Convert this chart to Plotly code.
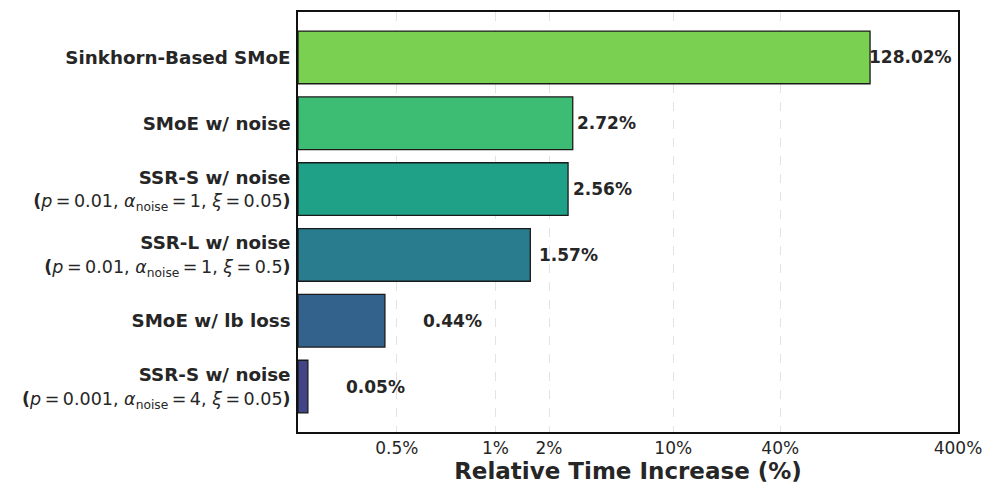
import numpy as np
import plotly.graph_objects as go

# ---- data (top to bottom) ----
method_names = [
    "Sinkhorn-Based SMoE",
    "SMoE w/ noise",
    "SSR-S w/ noise",
    "SSR-L w/ noise",
    "SMoE w/ lb loss",
    "SSR-S w/ noise",
]
method_params = [
    None,
    None,
    "<i>p</i>\u2009=\u20090.01, <i>α</i><sub>noise</sub>\u2009=\u20091, <i>ξ</i>\u2009=\u20090.05",
    "<i>p</i>\u2009=\u20090.01, <i>α</i><sub>noise</sub>\u2009=\u20091, <i>ξ</i>\u2009=\u20090.5",
    None,
    "<i>p</i>\u2009=\u20090.001, <i>α</i><sub>noise</sub>\u2009=\u20094, <i>ξ</i>\u2009=\u20090.05",
]
increase_pct = [128.02, 2.72, 2.56, 1.57, 0.44, 0.05]
bar_colors = ["#7ad151", "#3dbc74", "#1fa187", "#287c8e", "#33638d", "#414487"]
tick_values = [0.5, 1, 2, 10, 40, 400]
tick_labels = ["0.5%", "1%", "2%", "10%", "40%", "400%"]
label_offset = 0.2


# symmetric-log scale (linthresh=1, linscale=1, base 10), as in the original axis
def symlog(v, linthresh=1.0, linscale=1.0, base=10.0):
    v = np.asarray(v, dtype=float)
    adj = linscale / (1.0 - base ** -1)
    a = np.abs(v)
    out = np.where(
        a <= linthresh,
        v * adj,
        np.sign(v) * linthresh * (adj + np.log(np.maximum(a, 1e-12) / linthresh) / np.log(base)),
    )
    return out


def make_label(name, params):
    s = f"<b>{name}</b>"
    if params:
        s += f"<br><span style='font-size:17.5px'><b>(</b>{params}<b>)</b></span>"
    return s


methods = [make_label(n, p) for n, p in zip(method_names, method_params)]
ypos = list(range(len(methods)))
xs = symlog(increase_pct)

fig = go.Figure()
fig.add_trace(go.Bar(
    x=xs, y=ypos, orientation="h", width=0.8,
    marker=dict(color=bar_colors, line=dict(color="#1a1a1a", width=1.3)),
    hoverinfo="skip",
))

for i, v in enumerate(increase_pct):
    fig.add_annotation(
        x=float(symlog(v + label_offset)), y=i, xref="x", yref="y",
        text=f"<b>{v:.2f}%</b>", showarrow=False, xanchor="left", yanchor="middle",
        xshift=-2, borderpad=0,
        font=dict(family="DejaVu Sans", size=17, color="#262626"),
    )

# the page body adds an 8px offset; the figure is sized so the plot box lands where the reference has it
fig.update_layout(
    width=989, height=490,
    margin=dict(l=290, r=39, t=4, b=66),
    plot_bgcolor="white", paper_bgcolor="white",
    showlegend=False,
    font=dict(family="DejaVu Sans", color="#262626"),
    bargap=0.2,
)
fig.update_xaxes(
    range=[0, float(symlog(400))], automargin=False,
    tickmode="array", tickvals=[float(t) for t in symlog(tick_values)], ticktext=tick_labels,
    tickfont=dict(family="DejaVu Sans", size=17, color="#262626"),
    showgrid=True, gridcolor="#e3e3e3", griddash="dash", gridwidth=1,
    showline=True, mirror=True, linecolor="#111111", linewidth=1.6,
    ticks="", ticklabelstandoff=0, zeroline=False,
    title=dict(text="<b>Relative Time Increase (%)</b>",
               font=dict(family="DejaVu Sans", size=23, color="#262626"), standoff=0),
)
fig.update_yaxes(
    range=[5.69, -0.69], automargin=False,
    tickmode="array", tickvals=ypos, ticktext=methods,
    tickfont=dict(family="DejaVu Sans", size=18.3, color="#262626"),
    showgrid=False, zeroline=False,
    showline=True, mirror=True, linecolor="#111111", linewidth=1.6,
    ticks="", ticklabelstandoff=2,
)

fig.write_html("out.html")
